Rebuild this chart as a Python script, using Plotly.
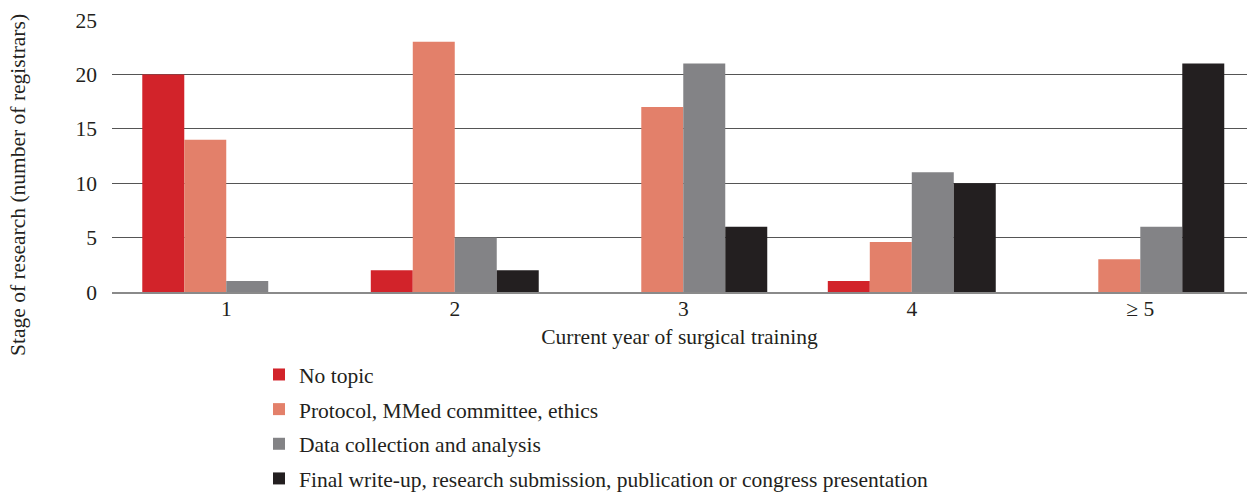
import plotly.graph_objects as go

years = ["1", "2", "3", "4", "≥ 5"]
series_names = [
    "No topic",
    "Protocol, MMed committee, ethics",
    "Data collection and analysis",
    "Final write-up, research submission, publication or congress presentation",
]
no_topic = [20, 2, 0, 1, 0]
protocol = [14, 23, 17, 4.6, 3]
data_collection = [1, 5, 21, 11, 6]
final_writeup = [0, 2, 6, 10, 21]
colors = ["#d2232a", "#e3806a", "#838386", "#231f20"]

W, H = 1247, 492
ml, mr, mt, mb = 112, 0, 20, 200
pw, ph = W - ml - mr, H - mt - mb

font_family = "Liberation Serif, Times New Roman, serif"
txt_color = "#231f20"
fs = 21.5

fig = go.Figure()
for i, (name, vals) in enumerate(zip(series_names, [no_topic, protocol, data_collection, final_writeup])):
    fig.add_trace(go.Bar(
        x=years, y=vals, name=name, marker=dict(color=colors[i], line=dict(width=0)),
        legendgroup=f"g{i}",
    ))

def px_x(p):
    return (p - ml) / pw

def px_y(p):
    return (H - mb - p) / ph

fig.update_layout(
    width=W, height=H,
    margin=dict(l=ml, r=mr, t=mt, b=mb, autoexpand=False),
    paper_bgcolor="white", plot_bgcolor="white",
    barmode="group", bargap=0.265, bargroupgap=0,
    font=dict(family=font_family, size=fs, color=txt_color),
    showlegend=True,
    legend=dict(
        x=px_x(259), y=px_y(354), xanchor="left", yanchor="top",
        orientation="v", traceorder="grouped", tracegroupgap=3.7,
        font=dict(family=font_family, size=fs, color=txt_color),
        bgcolor="rgba(0,0,0,0)",
    ),
    xaxis=dict(
        type="category", range=[-0.5, 4.467],
        showgrid=False, zeroline=False,
        showline=True, linecolor="#8a8a8a", linewidth=1.5,
        ticks="", tickfont=dict(size=fs), ticklabelstandoff=-4,
        title=dict(text="Current year of surgical training", font=dict(size=fs), standoff=9),
    ),
    yaxis=dict(
        range=[0, 25], dtick=5, tick0=0,
        showgrid=True, gridcolor="#555555", gridwidth=1,
        zeroline=False, showline=False,
        ticks="", ticklabelstandoff=14, tickfont=dict(size=fs),
    ),
    annotations=[dict(
        text="Stage of research (number of registrars)",
        xref="paper", yref="paper", x=px_x(18), y=px_y(185),
        xanchor="center", yanchor="middle", textangle=-90, showarrow=False,
        font=dict(family=font_family, size=fs, color=txt_color),
    )],
)

fig.write_html(
    "out.html",
    config={"displayModeBar": False},
    post_script="document.body.style.margin='0';document.body.style.overflow='hidden';",
)
